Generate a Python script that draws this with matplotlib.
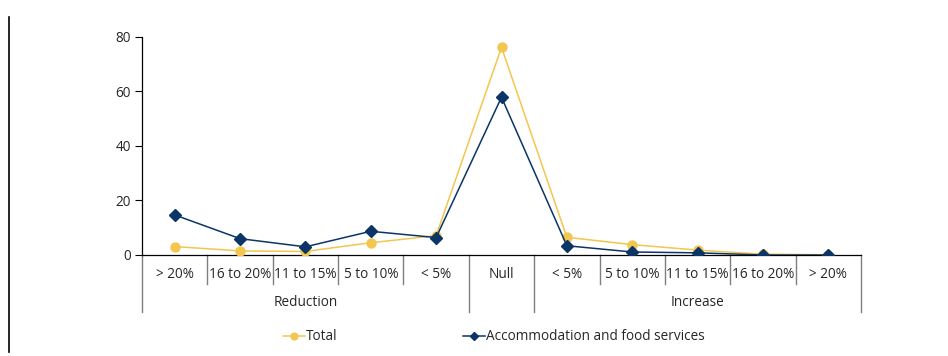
import matplotlib.pyplot as plt
from matplotlib.lines import Line2D

plt.rcParams['font.family'] = ['Open Sans', 'DejaVu Sans']

# ── Data ──────────────────────────────────────────────────────────────────────
categories = ['> 20%', '16 to 20%', '11 to 15%', '5 to 10%', '< 5%', 'Null',
              '< 5%', '5 to 10%', '11 to 15%', '16 to 20%', '> 20%']
groups = [('Reduction', 0, 4), ('Increase', 6, 10)]
total = [3.1, 1.5, 1.3, 4.5, 7.1, 76.2, 6.5, 3.8, 1.8, 0.3, 0.1]
accommodation = [14.7, 6.0, 3.0, 8.7, 6.4, 57.9, 3.4, 1.1, 0.8, 0.0, 0.0]

YELLOW = '#F2C64F'
NAVY = '#0A3566'
GREY = '#7F7F7F'
TEXT = '#262626'
FS = 9.8

W, H = 948, 356
fig = plt.figure(figsize=(W / 100, H / 100), dpi=100)
ax = fig.add_axes([142 / W, (H - 255) / H, (861 - 142) / W, (255 - 37) / H])

x = list(range(len(categories)))
ax.plot(x, total, color=YELLOW, lw=1.1, marker='o', ms=6.5, label='Total', zorder=3)
ax.plot(x, accommodation, color=NAVY, lw=1.1, marker='D', ms=6,
        label='Accommodation and food services', zorder=4)

ax.set_xlim(-0.5, len(categories) - 0.5)
ax.set_ylim(0, 80)
ax.set_yticks([0, 20, 40, 60, 80])
ax.tick_params(axis='y', length=5, width=0.8, labelsize=FS, labelcolor=TEXT,
               color='black', pad=3)
ax.set_xticks([])
for s in ['top', 'right']:
    ax.spines[s].set_visible(False)
ax.spines['left'].set_linewidth(0.9)
ax.spines['bottom'].set_linewidth(0.9)

# category separators below the axis
trans = ax.get_xaxis_transform()
px = 1 / 218
bounds = [i - 0.5 for i in range(len(categories) + 1)]
outer = {-0.5, 4.5, 5.5, len(categories) - 0.5}
for b in bounds:
    depth = 57 if b in outer else 29
    ax.plot([b, b], [0, -depth * px], color=GREY, lw=1.0, transform=trans, clip_on=False)

for i, c in enumerate(categories):
    ax.text(i, -19 * px, c, ha='center', va='center', fontsize=FS, color=TEXT, transform=trans)
for name, a, b in groups:
    ax.text((a + b) / 2, -48 * px, name, ha='center', va='center', fontsize=FS,
            color=TEXT, transform=trans)

# left frame line
fig.add_artist(Line2D([9 / W, 9 / W], [1 - 17 / H, 1 - 352 / H], color='black', lw=1.2))

fig.legend(loc='center', bbox_to_anchor=(494 / W, 1 - 337 / H), ncol=2, frameon=False,
           fontsize=FS, handlelength=1.6, handletextpad=0.1, columnspacing=9.2,
           markerscale=0.75, labelcolor=TEXT)

fig.savefig('out.png', dpi=100)
